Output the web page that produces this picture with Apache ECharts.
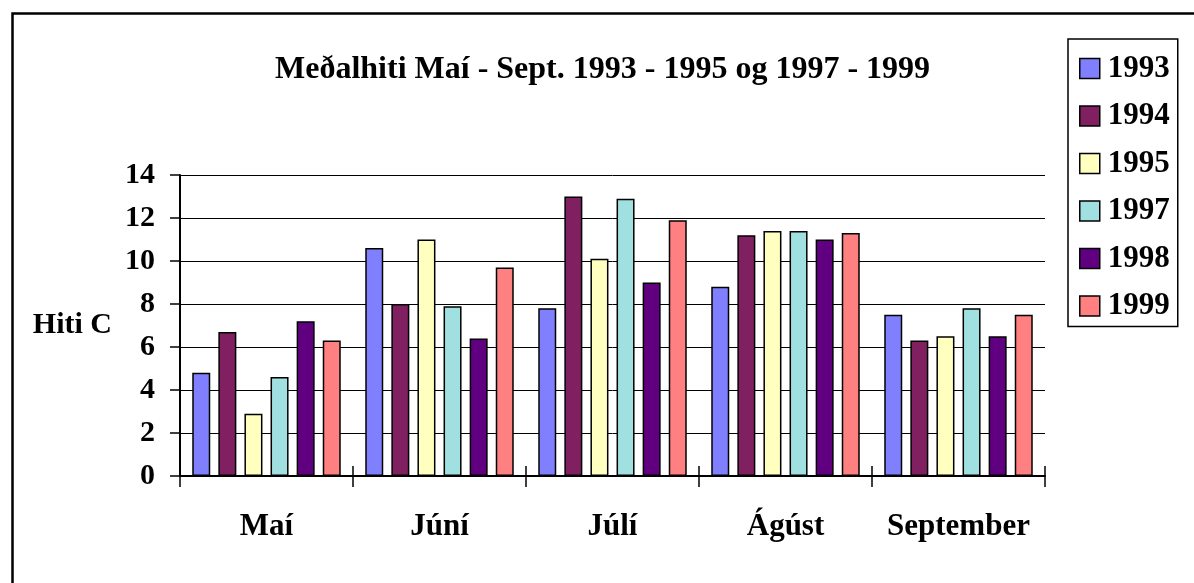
<!DOCTYPE html>
<html>
<head>
<meta charset="utf-8">
<script src="https://cdn.jsdelivr.net/npm/echarts@6/dist/echarts.min.js"></script>
<style>
  html, body { margin: 0; padding: 0; background: #fff; }
  #chart { width: 1194px; height: 583px; }
</style>
</head>
<body>
<div id="chart"></div>
<script>
var months = ['Maí', 'Júní', 'Júlí', 'Ágúst', 'September'];
var years = ['1993', '1994', '1995', '1997', '1998', '1999'];
var colors = ['#8080FF', '#802060', '#FFFFC0', '#A0E0E0', '#600080', '#FF8080'];

// meðalhiti per month, one array per year
var t1993 = [4.8, 10.6, 7.8, 8.8, 7.5];
var t1994 = [6.7, 8.0, 13.0, 11.2, 6.3];
var t1995 = [2.9, 11.0, 10.1, 11.4, 6.5];
var t1997 = [4.6, 7.9, 12.9, 11.4, 7.8];
var t1998 = [7.2, 6.4, 9.0, 11.0, 6.5];
var t1999 = [6.3, 9.7, 11.9, 11.3, 7.5];
var yTicks = [0, 14, 2]; // min, max, step

var font = '"Liberation Serif", "Times New Roman", serif';
var allData = [t1993, t1994, t1995, t1997, t1998, t1999];

var myChart = echarts.init(document.getElementById('chart'));

var series = years.map(function (y, i) {
    return {
        name: y,
        type: 'bar',
        data: allData[i],
        barWidth: 18,
        barGap: '45%',
        itemStyle: { color: colors[i], borderColor: '#000', borderWidth: 1.5 }
    };
});

var option = {
    animation: false,
    backgroundColor: '#fff',
    title: {
        text: 'Meðalhiti Maí - Sept. 1993 - 1995 og 1997 - 1999',
        left: 275,
        top: 54,
        padding: 0,
        textStyle: { fontFamily: font, fontSize: 32, fontWeight: 'bold', color: '#000' }
    },
    legend: {
        orient: 'vertical',
        left: 1068,
        top: 39,
        padding: [14, 8, 5, 11],
        itemWidth: 20,
        itemHeight: 20,
        itemGap: 16.5,
        icon: 'rect',
        borderColor: '#000',
        borderWidth: 1.5,
        borderRadius: 0,
        itemStyle: { borderColor: '#000', borderWidth: 1.5 },
        textStyle: { fontFamily: font, fontSize: 31, fontWeight: 'bold', color: '#000', padding: [0, 0, 0, 3] },
        data: years
    },
    grid: { left: 180, right: 149, top: 175, bottom: 107 },
    xAxis: [
        {
            type: 'category',
            data: months,
            position: 'bottom',
            axisLine: { show: true, lineStyle: { color: '#000', width: 2 } },
            axisTick: { show: true, interval: 0, length: 11, lineStyle: { color: '#000', width: 1.5 } },
            axisLabel: { interval: 0, margin: 35, fontFamily: font, fontSize: 31, fontWeight: 'bold', color: '#000' }
        },
        {
            // inner half of the cross ticks
            type: 'category',
            data: months,
            position: 'bottom',
            axisLine: { show: false },
            axisTick: { show: true, interval: 0, inside: true, length: 10, lineStyle: { color: '#000', width: 1.5 } },
            axisLabel: { show: false }
        }
    ],
    yAxis: {
        type: 'value',
        min: yTicks[0],
        max: yTicks[1],
        interval: yTicks[2],
        name: 'Hiti C',
        nameLocation: 'middle',
        nameRotate: 0,
        nameGap: 68,
        nameTextStyle: { fontFamily: font, fontSize: 30, fontWeight: 'bold', color: '#000' },
        axisLine: { show: true, lineStyle: { color: '#000', width: 2 } },
        axisTick: { show: true, length: 10, lineStyle: { color: '#000', width: 1.5 } },
        axisLabel: { margin: 25, fontFamily: font, fontSize: 30, fontWeight: 'bold', color: '#000' },
        splitLine: { lineStyle: { color: '#000', width: 1 } }
    },
    series: series,
    graphic: [{
        type: 'rect',
        left: 10,
        top: 11,
        shape: { width: 1400, height: 800 },
        style: { fill: 'none', stroke: '#000', lineWidth: 2.5 },
        silent: true
    }]
};

myChart.setOption(option);
</script>
</body>
</html>
